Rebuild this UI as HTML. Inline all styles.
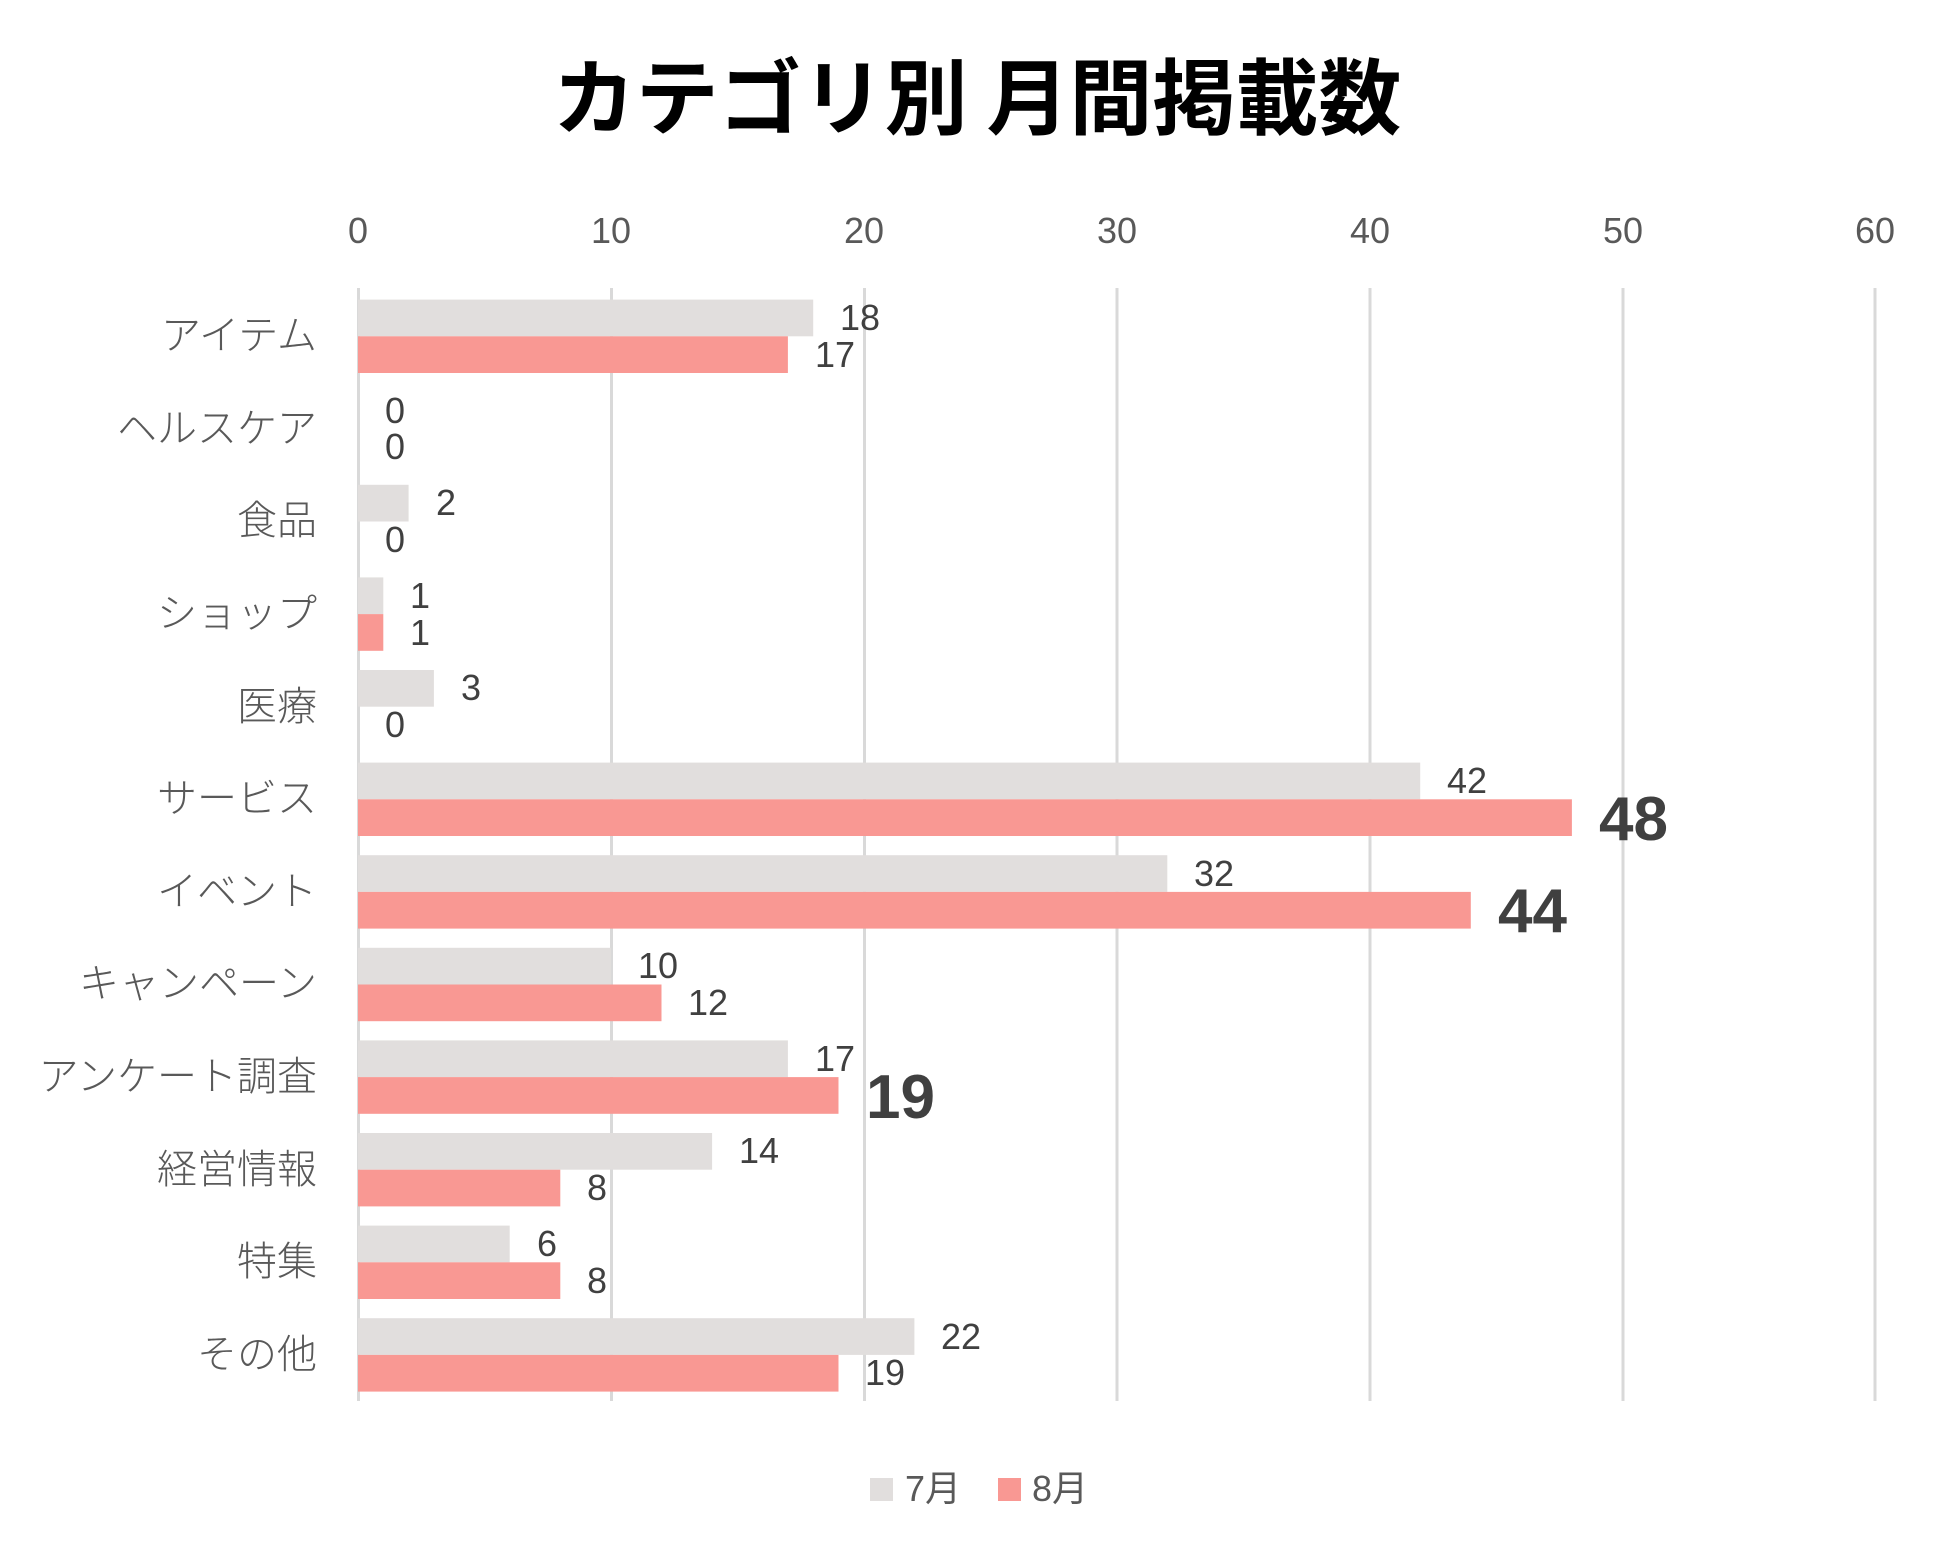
<!DOCTYPE html>
<html><head><meta charset="utf-8"><style>
html,body{margin:0;padding:0;background:#fff;}
svg text{font-family:"Liberation Sans","Noto Sans CJK JP",sans-serif;}
</style></head><body>
<svg width="1949" height="1559" viewBox="0 0 1949 1559" xmlns="http://www.w3.org/2000/svg">
<rect width="1949" height="1559" fill="#fff"/>
<text x="977" y="128" text-anchor="middle" font-size="83" font-weight="bold" fill="#000" style="font-family:'Noto Sans CJK JP',sans-serif">カテゴリ別 月間掲載数</text>
<g stroke="#d9d9d9" stroke-width="3">
<line x1="358.5" y1="288" x2="358.5" y2="1401"/>
<line x1="611.5" y1="288" x2="611.5" y2="1401"/>
<line x1="864.5" y1="288" x2="864.5" y2="1401"/>
<line x1="1117" y1="288" x2="1117" y2="1401"/>
<line x1="1370" y1="288" x2="1370" y2="1401"/>
<line x1="1623" y1="288" x2="1623" y2="1401"/>
<line x1="1875" y1="288" x2="1875" y2="1401"/>
</g>
<g font-size="36" fill="#595959" text-anchor="middle">
<text x="358" y="243">0</text><text x="611" y="243">10</text><text x="864" y="243">20</text><text x="1117" y="243">30</text><text x="1370" y="243">40</text><text x="1623" y="243">50</text><text x="1875" y="243">60</text>
</g>
<g fill="#e1dedd">
<rect x="358" y="299.6" width="455.2" height="36.7"/>
<rect x="358" y="484.8" width="50.6" height="36.7"/>
<rect x="358" y="577.4" width="25.3" height="36.7"/>
<rect x="358" y="670" width="75.9" height="36.7"/>
<rect x="358" y="762.6" width="1062.2" height="36.7"/>
<rect x="358" y="855.2" width="809.3" height="36.7"/>
<rect x="358" y="947.8" width="252.9" height="36.7"/>
<rect x="358" y="1040.4" width="429.9" height="36.7"/>
<rect x="358" y="1133" width="354.1" height="36.7"/>
<rect x="358" y="1225.6" width="151.7" height="36.7"/>
<rect x="358" y="1318.2" width="556.4" height="36.7"/>
</g>
<g fill="#f99893">
<rect x="358" y="336.3" width="429.9" height="36.7"/>
<rect x="358" y="614.1" width="25.3" height="36.7"/>
<rect x="358" y="799.3" width="1213.9" height="36.7"/>
<rect x="358" y="891.9" width="1112.8" height="36.7"/>
<rect x="358" y="984.5" width="303.5" height="36.7"/>
<rect x="358" y="1077.1" width="480.5" height="36.7"/>
<rect x="358" y="1169.7" width="202.3" height="36.7"/>
<rect x="358" y="1262.3" width="202.3" height="36.7"/>
<rect x="358" y="1354.9" width="480.5" height="36.7"/>
</g>
<g font-size="40" fill="#595959" text-anchor="end" style="font-weight:300">
<text x="317" y="349">アイテム</text>
<text x="317" y="442">ヘルスケア</text>
<text x="317" y="534">食品</text>
<text x="317" y="627">ショップ</text>
<text x="317" y="720">医療</text>
<text x="317" y="812">サービス</text>
<text x="317" y="905">イベント</text>
<text x="317" y="997">キャンペーン</text>
<text x="317" y="1090">アンケート調査</text>
<text x="317" y="1183">経営情報</text>
<text x="317" y="1275">特集</text>
<text x="317" y="1368">その他</text>
</g>
<g font-size="36" fill="#404040">
<text x="840" y="330">18</text><text x="815" y="367">17</text>
<text x="385" y="423">0</text><text x="385" y="459">0</text>
<text x="436" y="515">2</text><text x="385" y="552">0</text>
<text x="410" y="608">1</text><text x="410" y="645">1</text>
<text x="461" y="700">3</text><text x="385" y="737">0</text>
<text x="1447" y="793">42</text>
<text x="1194" y="886">32</text>
<text x="638" y="978">10</text><text x="688" y="1015">12</text>
<text x="815" y="1071">17</text>
<text x="739" y="1163">14</text><text x="587" y="1200">8</text>
<text x="537" y="1256">6</text><text x="587" y="1293">8</text>
<text x="941" y="1349">22</text><text x="865" y="1385">19</text>
</g>
<g font-size="62" font-weight="bold" fill="#404040">
<text x="1599" y="840">48</text>
<text x="1498" y="932">44</text>
<text x="866" y="1118">19</text>
</g>
<rect x="870" y="1478" width="23" height="23" fill="#e1dedd"/>
<text x="905" y="1501" font-size="36" fill="#595959">7月</text>
<rect x="998" y="1478" width="23" height="23" fill="#f99893"/>
<text x="1032" y="1501" font-size="36" fill="#595959">8月</text>
</svg>
</body></html>
